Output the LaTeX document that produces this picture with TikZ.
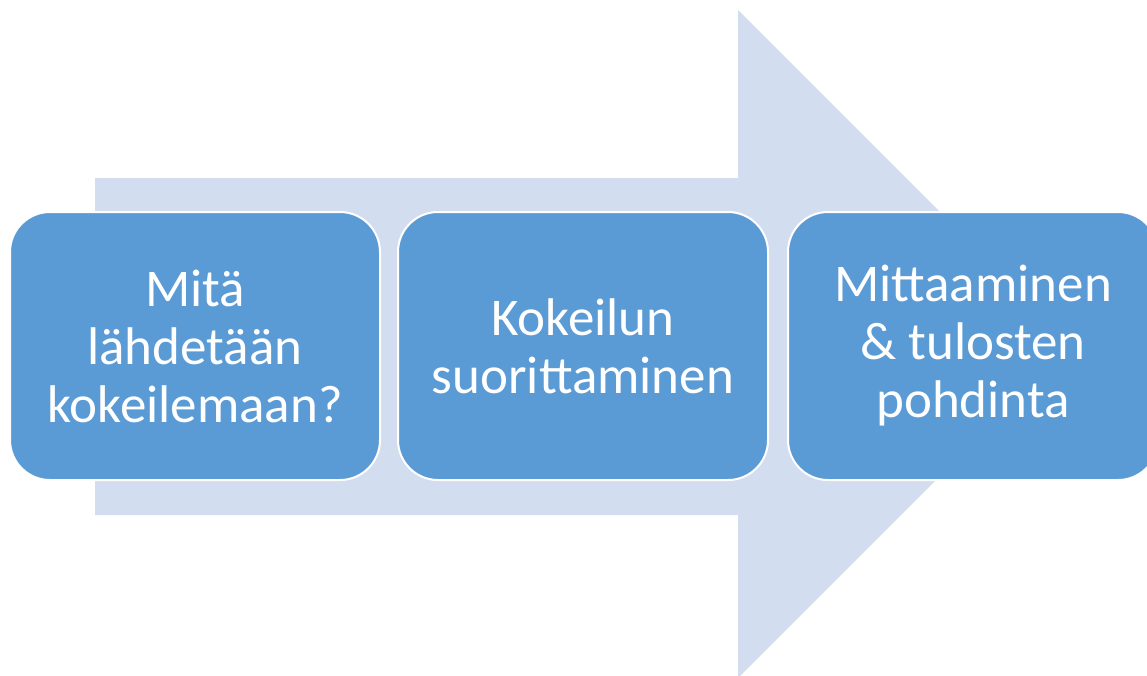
\documentclass[tikz,border=0pt]{standalone}
\usepackage{fontspec}
\setmainfont{Carlito}
\definecolor{arrowfill}{HTML}{D2DEEF}
\definecolor{boxfill}{HTML}{5B9BD5}
\tikzset{
  stepbox/.style={draw=white, line width=2pt, fill=boxfill, rounded corners=40pt,
    minimum width=370pt, minimum height=268pt, align=center, text=white,
    font=\fontsize{53}{58}\selectfont, inner sep=0pt}
}
\begin{document}
\begin{tikzpicture}[x=1pt,y=-1pt]
\clip (0,0) rectangle (1147,675);
\useasboundingbox (0,0) rectangle (1147,675);
\fill[arrowfill] (95,178) -- (738,178) -- (738,10) -- (1072,344) -- (738,678) -- (738,515) -- (95,515) -- cycle;
\node[stepbox] (b1) at (195,346) {Mitä\\lähdetään\\kokeilemaan?};
\node[stepbox] (b2) at (583,346) {Kokeilun\\suorittaminen};
\node[stepbox] (b3) at (973,346) {Mittaaminen\\\& tulosten\\pohdinta};
\end{tikzpicture}
\end{document}
